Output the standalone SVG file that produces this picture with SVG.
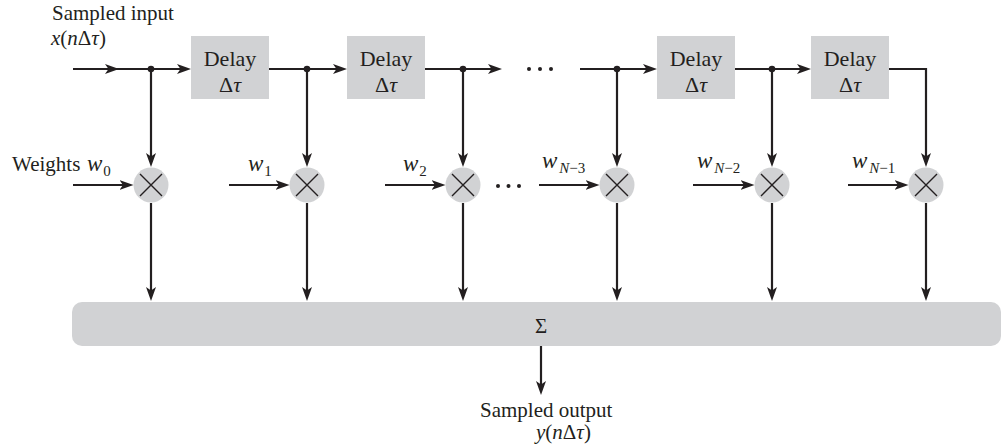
<svg xmlns="http://www.w3.org/2000/svg" width="1002" height="448" viewBox="0 0 1002 448">
<style>
.t{font-family:"Liberation Serif","Times New Roman",serif;font-size:21px;fill:#231f20}
.d{font-size:22px}
.i{font-style:italic}
.w{font-style:italic;font-size:23px}
.sub{font-size:15px}
.box{fill:#d1d2d4}
.mul{fill:#d1d2d4}
.x{stroke:#231f20;stroke-width:1.4;fill:none}
.ln{stroke:#231f20;stroke-width:2.2;fill:none}
.arr{marker-end:url(#ah)}
.dot{fill:#231f20}
</style>
<defs>
<marker id="ah" viewBox="0 0 14 10" refX="8" refY="5" markerWidth="14" markerHeight="10" markerUnits="userSpaceOnUse" orient="auto">
<path d="M0,0 L14,5 L0,10 L3.5,5 Z" fill="#231f20"/>
</marker>
</defs>
<rect width="1002" height="448" fill="#ffffff"/>

<g id="input-label">
<text class="t" x="52" y="20">Sampled input</text>
<text class="t" x="51" y="45"><tspan class="i">x</tspan>(<tspan class="i">n</tspan>Δ<tspan class="i">τ</tspan>)</text>
</g>

<g id="delay1">
<rect class="box" x="191" y="36" width="78" height="63"/>
<text class="t d" x="230" y="66" text-anchor="middle">Delay</text>
<text class="t d" x="230" y="92" text-anchor="middle">Δ<tspan class="i">τ</tspan></text>
</g>
<g id="delay2">
<rect class="box" x="347" y="36" width="78" height="63"/>
<text class="t d" x="386" y="66" text-anchor="middle">Delay</text>
<text class="t d" x="386" y="92" text-anchor="middle">Δ<tspan class="i">τ</tspan></text>
</g>
<g id="delay3">
<rect class="box" x="657" y="36" width="78" height="63"/>
<text class="t d" x="696" y="66" text-anchor="middle">Delay</text>
<text class="t d" x="696" y="92" text-anchor="middle">Δ<tspan class="i">τ</tspan></text>
</g>
<g id="delay4">
<rect class="box" x="811" y="36" width="78" height="63"/>
<text class="t d" x="850" y="66" text-anchor="middle">Delay</text>
<text class="t d" x="850" y="92" text-anchor="middle">Δ<tspan class="i">τ</tspan></text>
</g>

<g id="mult0">
<circle class="mul" cx="151" cy="185" r="17.5"/>
<path class="x" d="M140,174 L162,196 M162,174 L140,196"/>
<text class="t" x="12" y="171">Weights</text>
<text class="t" x="87" y="171"><tspan class="w">w</tspan><tspan class="sub" dy="5" dx="1">0</tspan></text>
</g>
<g id="mult1">
<circle class="mul" cx="307" cy="185" r="17.5"/>
<path class="x" d="M296,174 L318,196 M318,174 L296,196"/>
<text class="t" x="248" y="171"><tspan class="w">w</tspan><tspan class="sub" dy="5" dx="1">1</tspan></text>
</g>
<g id="mult2">
<circle class="mul" cx="463" cy="185" r="17.5"/>
<path class="x" d="M452,174 L474,196 M474,174 L452,196"/>
<text class="t" x="403" y="171"><tspan class="w">w</tspan><tspan class="sub" dy="5" dx="1">2</tspan></text>
</g>
<g id="mult3">
<circle class="mul" cx="617" cy="185" r="17.5"/>
<path class="x" d="M606,174 L628,196 M628,174 L606,196"/>
<text class="t" x="542" y="168"><tspan class="w">w</tspan><tspan class="sub" dy="5" dx="2"><tspan class="i">N</tspan>−3</tspan></text>
</g>
<g id="mult4">
<circle class="mul" cx="772" cy="185" r="17.5"/>
<path class="x" d="M761,174 L783,196 M783,174 L761,196"/>
<text class="t" x="697" y="168"><tspan class="w">w</tspan><tspan class="sub" dy="5" dx="2"><tspan class="i">N</tspan>−2</tspan></text>
</g>
<g id="mult5">
<circle class="mul" cx="926" cy="185" r="17.5"/>
<path class="x" d="M915,174 L937,196 M937,174 L915,196"/>
<text class="t" x="852" y="168"><tspan class="w">w</tspan><tspan class="sub" dy="5" dx="2"><tspan class="i">N</tspan>−1</tspan></text>
</g>

<g id="sum">
<rect class="box" x="72" y="302" width="929" height="44" rx="10"/>
<text class="t" x="541" y="333" text-anchor="middle">Σ</text>
</g>

<g id="output-label">
<text class="t" x="480" y="417">Sampled output</text>
<text class="t" x="536" y="439"><tspan class="i">y</tspan>(<tspan class="i">n</tspan>Δ<tspan class="i">τ</tspan>)</text>
</g>

<g id="ellipses">
<circle class="dot" cx="529" cy="69" r="2"/>
<circle class="dot" cx="540" cy="69" r="2"/>
<circle class="dot" cx="551" cy="69" r="2"/>
<circle class="dot" cx="498" cy="186" r="2"/>
<circle class="dot" cx="508.5" cy="186" r="2"/>
<circle class="dot" cx="519" cy="186" r="2"/>
</g>

<g id="connectors">
<path class="ln arr" d="M73,69 H113"/>
<path class="ln arr" d="M113,69 H185"/>
<path class="ln arr" d="M269,69 H341"/>
<path class="ln arr" d="M425,69 H496"/>
<path class="ln arr" d="M580,69 H651"/>
<path class="ln arr" d="M735,69 H805"/>
<path class="ln arr" d="M889,69 H926 V161"/>
<path class="ln arr" d="M151,69 V161"/>
<path class="ln arr" d="M307,69 V161"/>
<path class="ln arr" d="M463,69 V161"/>
<path class="ln arr" d="M617,69 V161"/>
<path class="ln arr" d="M772,69 V161"/>
<circle class="dot" cx="151" cy="69" r="3.3"/>
<circle class="dot" cx="307" cy="69" r="3.3"/>
<circle class="dot" cx="463" cy="69" r="3.3"/>
<circle class="dot" cx="617" cy="69" r="3.3"/>
<circle class="dot" cx="772" cy="69" r="3.3"/>
<path class="ln arr" d="M73,185 H127.5"/>
<path class="ln arr" d="M229,185 H283.5"/>
<path class="ln arr" d="M385,185 H439.5"/>
<path class="ln arr" d="M539,185 H593.5"/>
<path class="ln arr" d="M693,185 H748.5"/>
<path class="ln arr" d="M848,185 H902.5"/>
<path class="ln arr" d="M151,203 V295"/>
<path class="ln arr" d="M307,203 V295"/>
<path class="ln arr" d="M463,203 V295"/>
<path class="ln arr" d="M617,203 V295"/>
<path class="ln arr" d="M772,203 V295"/>
<path class="ln arr" d="M926,203 V295"/>
<path class="ln arr" d="M541,346 V389"/>
</g>
</svg>
